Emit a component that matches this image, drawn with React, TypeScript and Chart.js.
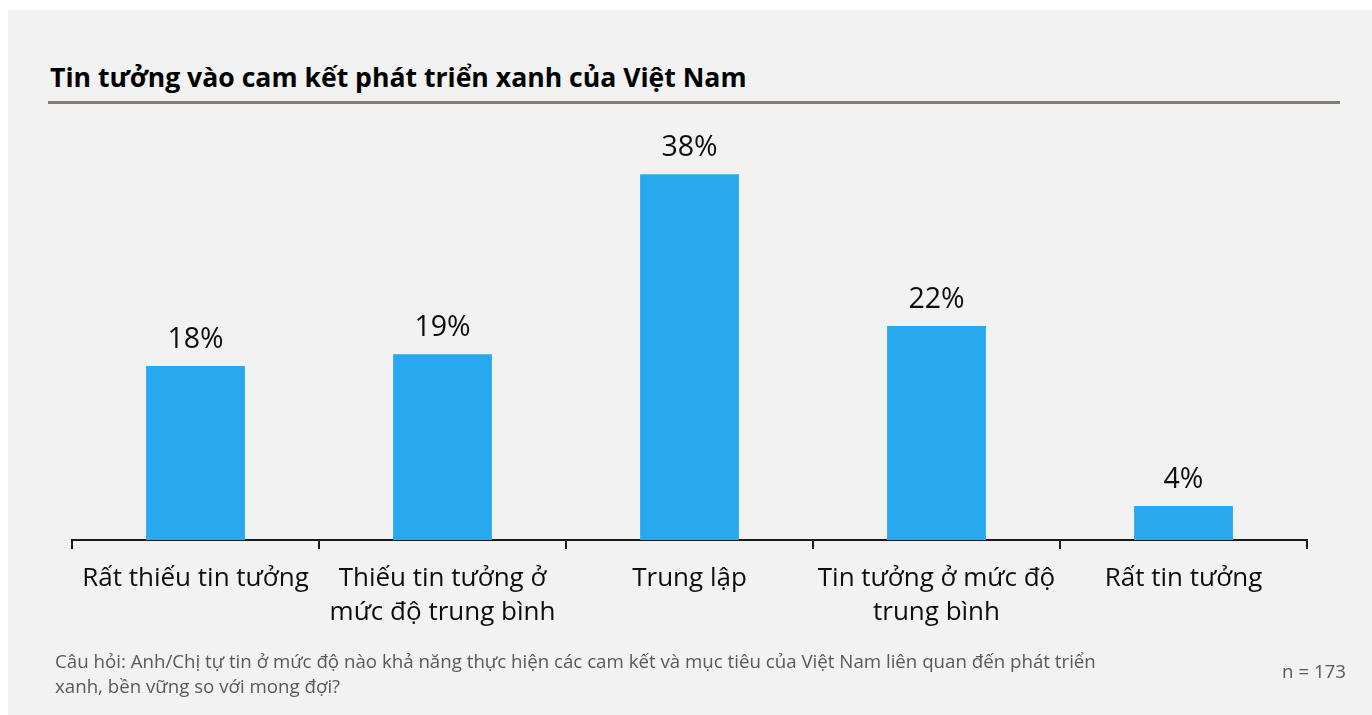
import React, { useEffect, useRef } from "react";
import { Chart, registerables } from "chart.js";

Chart.register(...registerables);

// ---- Data ----
const titleText = "Tin tưởng vào cam kết phát triển xanh của Việt Nam";
const categories: (string | string[])[] = [
  "Rất thiếu tin tưởng",
  ["Thiếu tin tưởng ở", "mức độ trung bình"],
  "Trung lập",
  ["Tin tưởng ở mức độ", "trung bình"],
  "Rất tin tưởng",
];
const values: number[] = [17.9, 19.1, 37.6, 22.0, 3.5];
const footnoteLines: string[] = [
  "Câu hỏi: Anh/Chị tự tin ở mức độ nào khả năng thực hiện các cam kết và mục tiêu của Việt Nam liên quan đến phát triển",
  "xanh, bền vững so với mong đợi?",
];
const sampleNote = "n = 173";

const FONT = "'Open Sans', 'Noto Sans', sans-serif";
const BAR_COLOR = "#28a9ef";
const AXIS_COLOR = "#1a1a1a";

const PANEL_W = 1364;
const PANEL_H = 705;

const valueLabelPlugin = {
  id: "valueLabels",
  afterDatasetsDraw(chart: any) {
    const ctx = chart.ctx;
    const meta = chart.getDatasetMeta(0);
    ctx.save();
    ctx.fillStyle = "#0d0d0d";
    ctx.font = `28.5px ${FONT}`;
    ctx.textAlign = "center";
    ctx.textBaseline = "alphabetic";
    meta.data.forEach((bar: any, i: number) => {
      const label = Math.round(values[i]) + "%";
      ctx.fillText(label, bar.x, bar.y - 18);
    });
    ctx.restore();
  },
};

export default function App() {
  const canvasRef = useRef<HTMLCanvasElement | null>(null);

  useEffect(() => {
    if (!canvasRef.current) return;
    const chart = new Chart(canvasRef.current, {
      type: "bar",
      data: {
        labels: categories,
        datasets: [
          {
            data: values,
            backgroundColor: BAR_COLOR,
            borderWidth: 0,
            barPercentage: 0.4,
            categoryPercentage: 1,
          },
        ],
      },
      options: {
        responsive: false,
        animation: false,
        devicePixelRatio: 1,
        layout: { padding: { left: 64, right: 65, top: 141, bottom: 75 } },
        plugins: {
          legend: { display: false },
          tooltip: { enabled: false },
          title: { display: false },
        },
        scales: {
          x: {
            type: "category",
            offset: true,
            grid: {
              display: true,
              offset: true,
              drawOnChartArea: false,
              drawTicks: true,
              tickLength: 9,
              color: AXIS_COLOR,
              lineWidth: 2,
            },
            border: { display: true, color: AXIS_COLOR, width: 2 },
            ticks: {
              color: "#0d0d0d",
              font: { family: FONT, size: 26, lineHeight: "34px" },
              padding: 13,
              maxRotation: 0,
              minRotation: 0,
              autoSkip: false,
            },
            afterFit: (scale: any) => {
              scale.height = 100;
            },
          },
          y: {
            display: false,
            min: 0,
            max: 40,
          },
        },
      },
      plugins: [valueLabelPlugin],
    } as any);
    return () => chart.destroy();
  }, []);

  const gray = "#595959";

  return (
    <div
      style={{
        position: "fixed",
        left: 8,
        top: 10,
        width: PANEL_W,
        height: PANEL_H,
        background: "#f2f2f2",
        overflow: "hidden",
      }}
    >
      <div
        style={{
          position: "absolute",
          left: 42,
          top: 49,
          fontFamily: FONT,
          fontWeight: 700,
          fontSize: 26.6,
          lineHeight: "36px",
          color: "#000",
          whiteSpace: "nowrap",
        }}
      >
        {titleText}
      </div>
      <div
        style={{
          position: "absolute",
          left: 40,
          top: 91,
          width: 1292,
          height: 3,
          background: "#857b6e",
        }}
      />
      <canvas
        ref={canvasRef}
        width={PANEL_W}
        height={PANEL_H}
        style={{ position: "absolute", left: 0, top: 0, width: PANEL_W, height: PANEL_H }}
      />
      <div
        style={{
          position: "absolute",
          left: 47,
          top: 638,
          fontFamily: FONT,
          fontSize: 18.7,
          lineHeight: "25px",
          color: gray,
          whiteSpace: "nowrap",
        }}
      >
        {footnoteLines.map((l, i) => (
          <div key={i}>{l}</div>
        ))}
      </div>
      <div
        style={{
          position: "absolute",
          right: 26,
          top: 648,
          fontFamily: FONT,
          fontSize: 18.7,
          lineHeight: "25px",
          color: gray,
          whiteSpace: "nowrap",
        }}
      >
        {sampleNote}
      </div>
    </div>
  );
}
